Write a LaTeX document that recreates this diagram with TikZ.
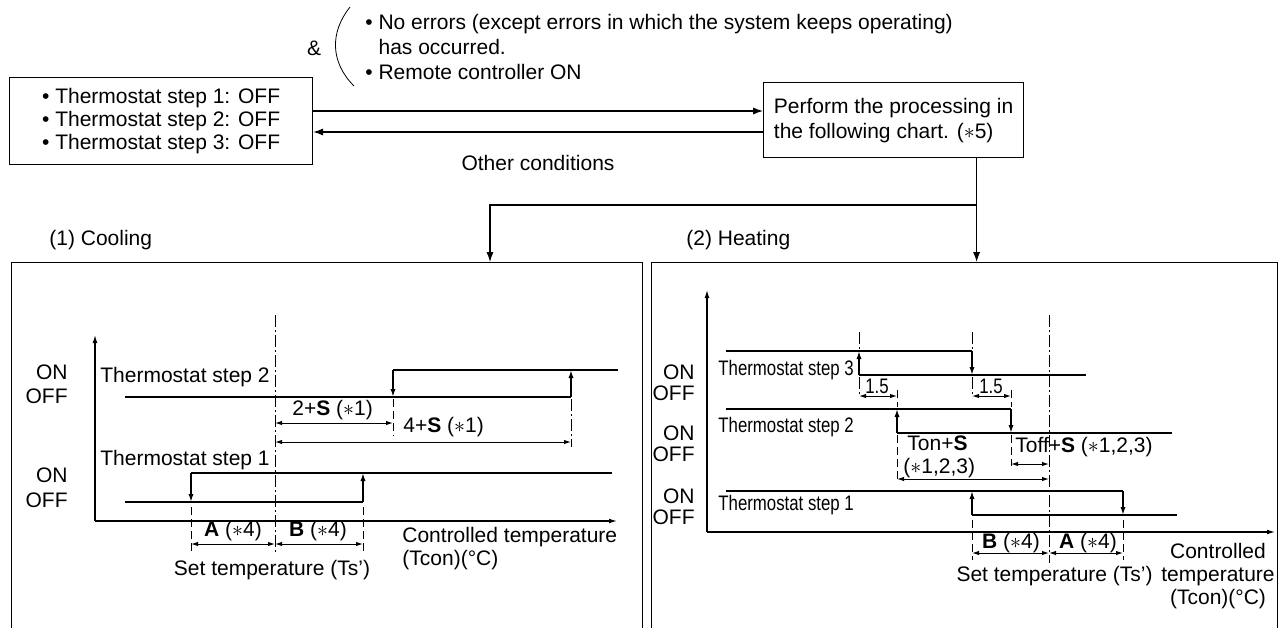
\documentclass[tikz,border=0pt]{standalone}
\usepackage{fontspec}
\setmainfont{Liberation Sans}
\newfontfamily\narrowfont[FakeStretch=0.8]{Liberation Sans}
\usepackage{tikz}
\usetikzlibrary{positioning,arrows.meta}
\newcommand{\astk}{$\ast$}

\begin{document}
\begin{tikzpicture}[
    x=0.5pt, y=-0.5pt,
    every node/.style={font=\fontsize{10.5}{11.5}\selectfont, inner sep=0pt},
    flowbox/.style={draw=black, line width=0.6pt, align=left},
    panel/.style={draw=black, line width=0.6pt, anchor=north west},
    flow/.style={line width=0.6pt, -{Latex[length=5pt,width=3.6pt]}},
    axis/.style={line width=0.6pt, -{Latex[length=4pt,width=2.4pt]}},
    sig/.style={line width=1.1pt},
    stepedge/.style={line width=1.1pt, -{Latex[length=4pt,width=2.6pt]}},
    dimarrow/.style={line width=0.5pt, {Latex[length=3.5pt,width=2.2pt]}-{Latex[length=3.5pt,width=2.2pt]}},
    guide/.style={line width=0.5pt, dash pattern=on 4pt off 2pt},
    centre/.style={line width=0.5pt, dash pattern=on 6pt off 1.5pt on 1pt off 1.5pt},
    onoff/.style={anchor=east},
    stepname/.style={anchor=west},
    narrow/.style={font=\fontsize{10.5}{11.5}\narrowfont}
]
\useasboundingbox (0,0) rectangle (1280,627);

% conditions and flow
\node (amp) at (314,48) {\&};
\draw (350,7) .. controls (330,32) and (330,62) .. (354,86);
\node (cond) [anchor=west, align=left, font=\fontsize{10.5}{12.5}\selectfont] at (365,47)
  {• No errors (except errors in which the system keeps operating)\\
   \hphantom{• }has occurred.\\
   • Remote controller ON};

\node (offbox) [flowbox, anchor=north west, minimum width=151.5pt, minimum height=43.5pt] at (9,77)
  {• Thermostat step 1: OFF\\• Thermostat step 2: OFF\\• Thermostat step 3: OFF};
\node (procbox) [flowbox, anchor=north west, minimum width=130pt, minimum height=37.5pt,
  font=\fontsize{10.5}{12.5}\selectfont] at (763,82)
  {Perform the processing in\\the following chart. (\astk5)};

\coordinate (rowgo) at (0,111);
\coordinate (rowback) at (0,132);
\draw[flow] (offbox.east |- rowgo) -- (procbox.west |- rowgo);
\draw[flow] (procbox.west |- rowback) -- (offbox.east |- rowback);
\node (other) at (538,163) {Other conditions};

\node (coolpanel) [panel, minimum width=315.5pt, minimum height=190pt] at (11,262) {};
\node (heatpanel) [panel, minimum width=313pt, minimum height=190pt] at (651,262) {};
\node (coollbl) [anchor=west] at (49,240) {(1) Cooling};
\node (heatlbl) [anchor=west] at (686,240) {(2) Heating};

\coordinate (drop) at ([xshift=41.5pt]procbox.south);
\coordinate (branchrow) at (0,205);
\coordinate (coolin) at (490,262);
\draw[flow] (drop) -- (drop |- heatpanel.north);
\draw[flow] (drop |- branchrow) -| (coolin);

% (1) cooling chart
\draw[axis] (95,521) -- (95,335);
\draw[axis] (95,521) -- (617,521);
\node (c2on) [onoff] at (68,372) {ON};
\node (c2off) [onoff] at (68,396) {OFF};
\node (c1on) [onoff] at (68,475) {ON};
\node (c1off) [onoff] at (68,500) {OFF};
\node (c2name) [stepname] at (100,377) {Thermostat step 2};
\node (c1name) [stepname] at (100,460) {Thermostat step 1};

\draw[centre] (275,315) -- (275,553);
\draw[sig] (125,397) -- (571,397);
\draw[stepedge] (571,397) -- (571,370);
\draw[sig] (393,370) -- (618,370);
\draw[stepedge] (393,370) -- (393,397);
\draw[guide] (393,399) -- (393,436);
\draw[centre] (571,399) -- (571,447);
\draw[dimarrow] (275,423) -- (393,423);
\draw[dimarrow] (275,442) -- (571,442);
\node (c2s) [anchor=west] at (292,410) {2+\textbf{S} (\astk1)};
\node (c4s) [anchor=west] at (403,427) {4+\textbf{S} (\astk1)};

\draw[sig] (125,502) -- (363,502);
\draw[stepedge] (363,502) -- (363,473);
\draw[sig] (191,473) -- (612,473);
\draw[stepedge] (191,473) -- (191,502);
\draw[guide] (191,507) -- (191,553);
\draw[guide] (363,507) -- (363,553);
\draw[dimarrow] (191,544) -- (275,544);
\draw[dimarrow] (275,544) -- (363,544);
\node (ca) at (233,531) {\textbf{A} (\astk4)};
\node (cb) at (318,531) {\textbf{B} (\astk4)};
\node (cset) at (272,570) {Set temperature (Ts’)};
\node (ctemp) [anchor=west, align=left] at (402,549) {Controlled temperature\\(Tcon)(°C)};

% (2) heating chart
\draw[axis] (707,532) -- (707,290);
\draw[axis] (707,532) -- (1275,532);
\node (h3on) [onoff] at (695,372) {ON};
\node (h3off) [onoff] at (695,393) {OFF};
\node (h2on) [onoff] at (695,433) {ON};
\node (h2off) [onoff] at (695,454) {OFF};
\node (h1on) [onoff] at (695,496) {ON};
\node (h1off) [onoff] at (695,517) {OFF};
\node (h3name) [stepname, narrow] at (718,370) {Thermostat step 3};
\node (h2name) [stepname, narrow] at (718,427) {Thermostat step 2};
\node (h1name) [stepname, narrow] at (718,505) {Thermostat step 1};

\draw[centre] (1049,315) -- (1049,563);
\draw[sig] (726,351) -- (972,351);
\draw[stepedge] (972,351) -- (972,375);
\draw[sig] (859,375) -- (1086,375);
\draw[stepedge] (859,375) -- (859,351);
\draw[centre] (859,332) -- (859,349);
\draw[centre] (859,377) -- (859,397);
\draw[centre] (972,332) -- (972,349);
\draw[centre] (972,377) -- (972,397);
\draw[dimarrow] (859,396) -- (897,396);
\draw[dimarrow] (972,396) -- (1011,396);
\node (h3gap) [narrow] at (877,386) {1.5};
\node (h2gap) [narrow] at (991,386) {1.5};

\draw[sig] (726,409) -- (1011,409);
\draw[stepedge] (1011,409) -- (1011,433);
\draw[sig] (897,433) -- (1172,433);
\draw[stepedge] (897,433) -- (897,409);
\draw[guide] (897,390) -- (897,407);
\draw[guide] (897,435) -- (897,480);
\draw[guide] (1011,390) -- (1011,407);
\draw[guide] (1011,435) -- (1011,466);
\draw[dimarrow] (1011,464) -- (1049,464);
\draw[dimarrow] (897,479) -- (1049,479);
\node (hton) [anchor=west] at (907,443) {Ton+\textbf{S}};
\node (htonref) [anchor=west] at (903,468) {(\astk1,2,3)};
\node (htoff) [anchor=west] at (1015,447) {Toff+\textbf{S} (\astk1,2,3)};

\draw[sig] (726,491) -- (1123,491);
\draw[stepedge] (1123,491) -- (1123,515);
\draw[sig] (972,515) -- (1177,515);
\draw[stepedge] (972,515) -- (972,491);
\draw[guide] (972,520) -- (972,560);
\draw[guide] (1123,520) -- (1123,560);
\draw[dimarrow] (972,553) -- (1049,553);
\draw[dimarrow] (1049,553) -- (1123,553);
\node (hb) at (1011,543) {\textbf{B} (\astk4)};
\node (ha) at (1088,543) {\textbf{A} (\astk4)};
\node (hset) [anchor=east] at (1153,576) {Set temperature (Ts’)};
\node (htemp) [align=center] at (1218,576) {Controlled\\temperature\\(Tcon)(°C)};

\end{tikzpicture}
\end{document}
